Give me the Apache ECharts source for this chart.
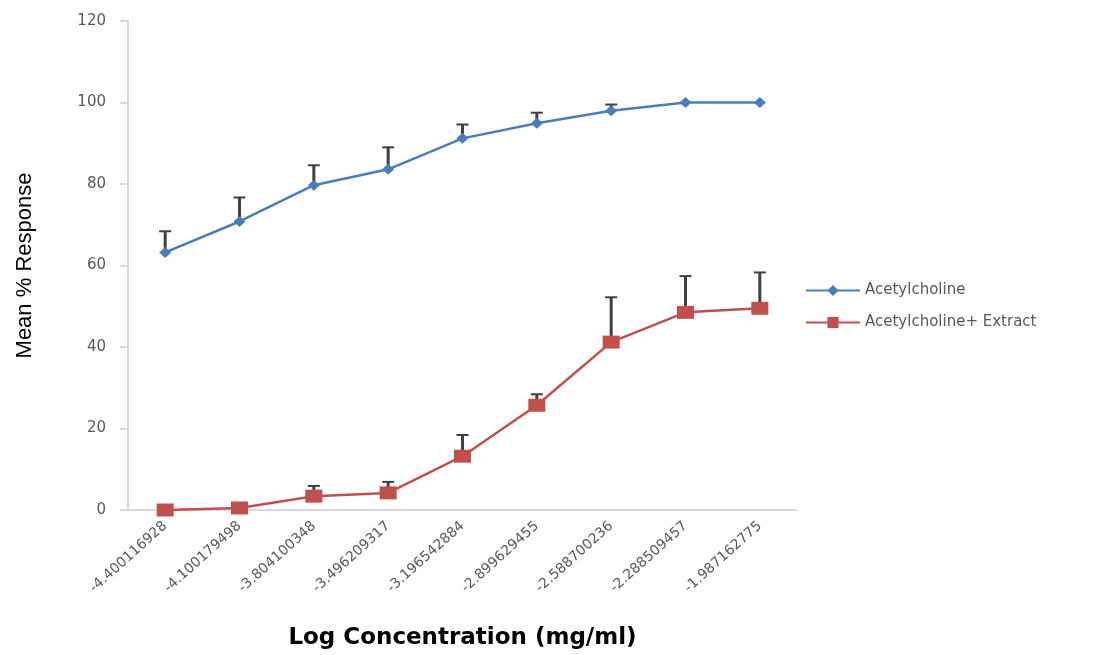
<!DOCTYPE html>
<html>
<head>
<meta charset="utf-8">
<script src="https://cdn.jsdelivr.net/npm/echarts@6/dist/echarts.min.js"></script>
<style>
  html, body { margin: 0; padding: 0; background: #fff; }
</style>
</head>
<body>
<div id="main" style="width: 1097px;height:655px;"></div>
<script type="text/javascript">
    // data
    var categories = ['-4.400116928', '-4.100179498', '-3.804100348', '-3.496209317', '-3.196542884',
        '-2.899629455', '-2.588700236', '-2.288509457', '-1.987162775'];
    var achMean = [63.2, 70.8, 79.7, 83.6, 91.2, 94.9, 98.0, 100, 100];
    var achErr = [5.2, 5.9, 4.9, 5.4, 3.4, 2.6, 1.5, 0, 0];
    var extMean = [0, 0.5, 3.4, 4.2, 13.2, 25.7, 41.2, 48.5, 49.5];
    var extErr = [0, 0, 2.5, 2.7, 5.2, 2.7, 11.0, 8.9, 8.8];
    var yTicks = [0, 20, 40, 60, 80, 100, 120];

    var myChart = echarts.init(document.getElementById('main'));

    // error bar: stem from mean up to mean + err, with a cap
    function errorBar(params, api) {
        var top = api.value(2);
        if (api.value(1) === top) return null;
        var p0 = api.coord([api.value(0), api.value(1)]);
        var p1 = api.coord([api.value(0), top]);
        return {
            type: 'group',
            children: [
                { type: 'line', shape: { x1: p0[0], y1: p0[1], x2: p1[0], y2: p1[1] },
                  style: { stroke: '#404040', lineWidth: 3 } },
                { type: 'line', shape: { x1: p1[0] - 6, y1: p1[1], x2: p1[0] + 6, y2: p1[1] },
                  style: { stroke: '#404040', lineWidth: 2 } }
            ]
        };
    }

    function barData(mean, err) {
        return mean.map(function (m, i) { return [i, m, m + err[i]]; });
    }

    var option = {
        animation: false,
        grid: { left: 128, right: 300, top: 21, bottom: 144 },
        legend: {
            orient: 'vertical',
            left: 800,
            top: 278,
            itemWidth: 54,
            itemHeight: 14,
            itemGap: 17,
            data: ['Acetylcholine', 'Acetylcholine+ Extract'],
            textStyle: { color: '#595959', fontSize: 15, fontFamily: 'DejaVu Sans' }
        },
        xAxis: {
            type: 'category',
            data: categories,
            boundaryGap: true,
            name: 'Log Concentration (mg/ml)',
            nameLocation: 'middle',
            nameGap: 117,
            nameTextStyle: { color: '#000', fontSize: 23, fontWeight: 'bold', fontFamily: 'DejaVu Sans' },
            axisLine: { lineStyle: { color: '#d9d9d9', width: 2 } },
            axisTick: { show: false },
            axisLabel: { rotate: 42, color: '#595959', fontSize: 14, fontFamily: 'DejaVu Sans', margin: 14, interval: 0 }
        },
        yAxis: {
            type: 'value',
            min: yTicks[0],
            max: yTicks[yTicks.length - 1],
            interval: 20,
            name: 'Mean % Response',
            nameLocation: 'middle',
            nameGap: 92,
            nameTextStyle: { color: '#000', fontSize: 22, fontFamily: 'Liberation Sans' },
            axisLine: { show: true, lineStyle: { color: '#d9d9d9', width: 2 } },
            axisTick: { show: true, length: 8, lineStyle: { color: '#d9d9d9', width: 2 } },
            splitLine: { show: false },
            axisLabel: { color: '#595959', fontSize: 15, fontFamily: 'DejaVu Sans', margin: 22 }
        },
        series: [
            {
                type: 'custom',
                renderItem: errorBar,
                data: barData(achMean, achErr),
                encode: { x: 0, y: [1, 2] },
                z: 1,
                silent: true
            },
            {
                type: 'custom',
                renderItem: errorBar,
                data: barData(extMean, extErr),
                encode: { x: 0, y: [1, 2] },
                z: 1,
                silent: true
            },
            {
                name: 'Acetylcholine',
                type: 'line',
                data: achMean,
                symbol: 'diamond',
                symbolSize: [12, 11],
                itemStyle: { color: '#4a7ebb' },
                lineStyle: { color: '#4a7ebb', width: 2.5 },
                z: 3
            },
            {
                name: 'Acetylcholine+ Extract',
                type: 'line',
                data: extMean,
                symbol: 'rect',
                symbolSize: [17, 13],
                itemStyle: { color: '#c0504d' },
                lineStyle: { color: '#c0504d', width: 2.5 },
                z: 3
            }
        ]
    };

    myChart.setOption(option);
</script>
</body>
</html>
